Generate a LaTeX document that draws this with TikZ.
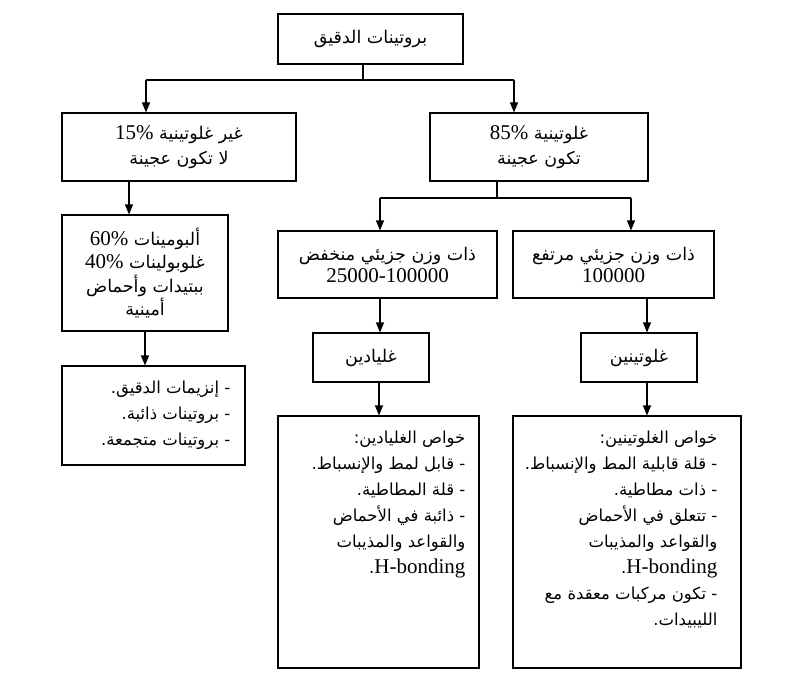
\documentclass[tikz,border=0pt]{standalone}
\usepackage{fontspec}
\setmainfont{Liberation Serif}
\newfontfamily\arabicfont[Script=Arabic]{DejaVu Sans}
\TeXXeTstate=1
\usetikzlibrary{arrows.meta}

\newcommand{\ar}[1]{\beginR #1\endR}
\newcommand{\lat}[1]{{\normalfont\fontsize{21}{25}\selectfont\beginL #1\endL}}

\begin{document}
\begin{tikzpicture}[x=1pt,y=-1pt,>={Triangle[length=10pt,width=8pt]},
	box/.style={draw,line width=1.1pt,inner sep=0pt,align=center,
		font=\arabicfont\fontsize{17.5}{25}\selectfont},
	listtext/.style={inner sep=0pt,align=right,
		font=\arabicfont\fontsize{16.5}{26}\selectfont},
	link/.style={line width=1.1pt}]
	\fill[white] (0,0) rectangle (797,695);

	% boxes
	\node[box,minimum width=185pt,minimum height=50pt] (flour) at (370.5,39)
		{\ar{بروتينات الدقيق}};
	\node[box,minimum width=234pt,minimum height=68pt] (nongl) at (179,147)
		{\ar{غير غلوتينية \lat{15\%}}\\ \ar{لا تكون عجينة}};
	\node[box,minimum width=218pt,minimum height=68pt] (gl) at (539,147)
		{\ar{غلوتينية \lat{85\%}}\\ \ar{تكون عجينة}};
	\node[box,minimum width=166pt,minimum height=116pt,
		font=\arabicfont\fontsize{17.5}{23.5}\selectfont] (alb) at (145,273)
		{\ar{ألبومينات \lat{60\%}}\\ \ar{غلوبولينات \lat{40\%}}\\
		 \ar{ببتيدات وأحماض}\\ \ar{أمينية}};
	\node[box,minimum width=219pt,minimum height=67pt,
		font=\arabicfont\fontsize{17.5}{22}\selectfont] (low) at (387.5,264.5)
		{\ar{ذات وزن جزيئي منخفض}\\ \lat{25000-100000}};
	\node[box,minimum width=201pt,minimum height=67pt,
		font=\arabicfont\fontsize{17.5}{22}\selectfont] (high) at (613.5,264.5)
		{\ar{ذات وزن جزيئي مرتفع}\\ \lat{100000}};
	\node[box,minimum width=116pt,minimum height=49pt] (glia) at (371,357.5)
		{\ar{غليادين}};
	\node[box,minimum width=116pt,minimum height=49pt] (glut) at (639,357.5)
		{\ar{غلوتينين}};
	\node[box,minimum width=183pt,minimum height=99pt] (enz) at (153.5,415.5) {};
	\node[box,minimum width=201pt,minimum height=252pt] (gliaprop) at (378.5,542) {};
	\node[box,minimum width=228pt,minimum height=252pt] (glutprop) at (627,542) {};

	% texts of the lists
	\node[listtext,anchor=east] (enztext) at ([xshift=-15pt,yshift=0pt]enz.east)
		{\ar{- إنزيمات الدقيق.}\\ \ar{- بروتينات ذائبة.}\\ \ar{- بروتينات متجمعة.}};
	\node[listtext,anchor=north east] (gliatext) at ([xshift=-14pt,yshift=-15pt]gliaprop.north east)
		{\ar{خواص الغليادين:}\\ \ar{- قابل لمط والإنسباط.}\\ \ar{- قلة المطاطية.}\\
		 \ar{- ذائبة في الأحماض}\\ \ar{والقواعد والمذيبات}\\ \ar{\lat{H-bonding}.}};
	\node[listtext,anchor=north east] (gluttext) at ([xshift=-24pt,yshift=-15pt]glutprop.north east)
		{\ar{خواص الغلوتينين:}\\ \ar{- قلة قابلية المط والإنسباط.}\\ \ar{- ذات مطاطية.}\\
		 \ar{- تتعلق في الأحماض}\\ \ar{والقواعد والمذيبات}\\ \ar{\lat{H-bonding}.}\\
		 \ar{- تكون مركبات معقدة مع}\\ \ar{الليبيدات.}};

	% connectors
	\coordinate (fork1) at (363,80);
	\coordinate (fork1l) at (146,80);
	\coordinate (fork1r) at (514,80);
	\coordinate (fork2) at (497,198);
	\coordinate (fork2l) at (380,198);
	\coordinate (fork2r) at (631,198);
	\draw[link] (flour.south -| fork1) -- (fork1);
	\draw[link] (fork1l) -- (fork1r);
	\draw[link,->] (fork1l) -- (fork1l |- nongl.north);
	\draw[link,->] (fork1r) -- (fork1r |- gl.north);
	\draw[link] (gl.south -| fork2) -- (fork2);
	\draw[link] (fork2l) -- (fork2r);
	\draw[link,->] (fork2l) -- (fork2l |- low.north);
	\draw[link,->] (fork2r) -- (fork2r |- high.north);

	\draw[link,->] (nongl.south -| 129,0) -- (alb.north -| 129,0);
	\draw[link,->] (alb.south) -- (enz.north -| alb.south);
	\draw[link,->] (low.south -| 380,0) -- (glia.north -| 380,0);
	\draw[link,->] (high.south -| 647,0) -- (glut.north -| 647,0);
	\draw[link,->] (glia.south -| 379,0) -- (gliaprop.north -| 379,0);
	\draw[link,->] (glut.south -| 647,0) -- (glutprop.north -| 647,0);
\end{tikzpicture}
\end{document}
